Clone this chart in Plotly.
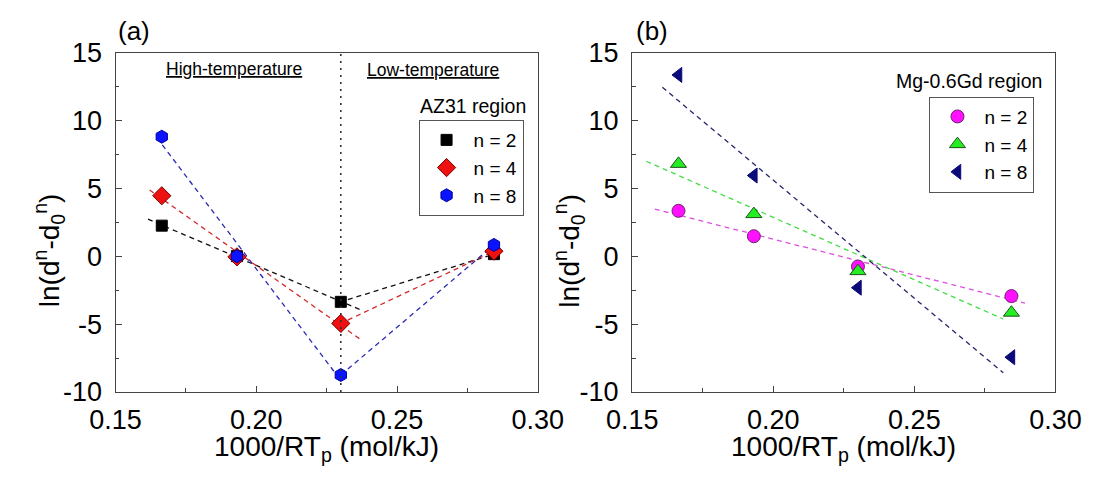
import numpy as np
import plotly.graph_objects as go

# 1000/RT_p (mol/kJ) for the four peak temperatures
inv_rt = [0.1664, 0.1931, 0.2300, 0.2844]

# ln(d^n - d0^n), AZ31 region
az31_n2 = [2.25, 0.0, -3.36, 0.15]
az31_n4 = [4.45, -0.05, -4.95, 0.37]
az31_n8 = [8.8, 0.0, -8.75, 0.83]

# ln(d^n - d0^n), Mg-0.6Gd region
gd_n2 = [3.34, 1.47, -0.76, -2.94]
gd_n4 = [6.8, 3.1, -1.1, -4.16]
gd_n8 = [13.35, 5.94, -2.32, -7.44]

# x extent of each fitted line
az31_high_span = {"n2": [0.1615, 0.2368], "n4": [0.1621, 0.2370], "n8": [0.1666, 0.2294]}
az31_low_span = [0.2325, 0.2835]
gd_span = {"n2": [0.158, 0.2892], "n4": [0.155, 0.2814], "n8": [0.1607, 0.2815]}

# axis ticks
x_ticks = [0.15, 0.20, 0.25, 0.30]
x_ticktext = ["0.15", "0.20", "0.25", "0.30"]
y_ticks = [-10, -5, 0, 5, 10, 15]
y_ticktext = ["-10", "-5", "0", "5", "10", "15"]

FONT = "Arial, Liberation Sans, sans-serif"
TICK_FONT = dict(family=FONT, size=27, color="black")


def fit_line(xs, ys, span):
    k, b = np.polyfit(xs, ys, 1)
    xx = np.array(span)
    return xx, k * xx + b


fig = go.Figure()

DASH = "5px,4px"

# panel (a): AZ31
az31 = [
    ("n2", az31_n2, "n = 2", dict(symbol="square", size=11, color="black",
                                   line=dict(color="black", width=1)), "#111111"),
    ("n4", az31_n4, "n = 4", dict(symbol="diamond", size=14, color="#ee1111",
                                   line=dict(color="#7a0000", width=1)), "#d42a2a"),
    ("n8", az31_n8, "n = 8", dict(symbol="hexagon", size=13, color="#0a14ff",
                                   line=dict(color="#0000a0", width=1)), "#2a2ab8"),
]
for key, ys, name, mk, lc in az31:
    hx, hy = fit_line(inv_rt[:3], ys[:3], az31_high_span[key])
    fig.add_trace(go.Scatter(x=hx, y=hy, mode="lines", showlegend=False,
                             line=dict(color=lc, width=1.3, dash=DASH),
                             xaxis="x", yaxis="y", hoverinfo="skip"))
    lx, ly = fit_line(inv_rt[2:], ys[2:], az31_low_span)
    fig.add_trace(go.Scatter(x=lx, y=ly, mode="lines", showlegend=False,
                             line=dict(color=lc, width=1.3, dash=DASH),
                             xaxis="x", yaxis="y", hoverinfo="skip"))
for key, ys, name, mk, lc in az31:
    fig.add_trace(go.Scatter(x=inv_rt, y=ys, mode="markers", name=name, marker=mk,
                             xaxis="x", yaxis="y", legend="legend"))

# boundary between the high- and low-temperature regimes
fig.add_trace(go.Scatter(x=[inv_rt[2], inv_rt[2]], y=[-10, 15], mode="lines",
                         showlegend=False, hoverinfo="skip",
                         line=dict(color="#333333", width=1.6, dash="2px,5px"),
                         xaxis="x", yaxis="y"))

# panel (b): Mg-0.6Gd
gd = [
    ("n2", gd_n2, "n = 2", dict(symbol="circle", size=13, color="#ff10ff",
                                 line=dict(color="#702070", width=1)), "#e050e0"),
    ("n4", gd_n4, "n = 4", dict(symbol="triangle-up", size=14, color="#22ee22",
                                 line=dict(color="#205020", width=1)), "#44dd44"),
    ("n8", gd_n8, "n = 8", dict(symbol="triangle-left", size=13, color="#0a0a78",
                                 line=dict(color="#0a0a78", width=1)), "#25256a"),
]
for key, ys, name, mk, lc in gd:
    fx, fy = fit_line(inv_rt, ys, gd_span[key])
    fig.add_trace(go.Scatter(x=fx, y=fy, mode="lines", showlegend=False,
                             line=dict(color=lc, width=1.3, dash=DASH),
                             xaxis="x2", yaxis="y2", hoverinfo="skip"))
for key, ys, name, mk, lc in gd:
    fig.add_trace(go.Scatter(x=inv_rt, y=ys, mode="markers", name=name, marker=mk,
                             xaxis="x2", yaxis="y2", legend="legend2"))

xa = dict(range=[0.15, 0.30], tickvals=x_ticks, ticktext=x_ticktext,
          ticks="inside", ticklen=6, tickwidth=1.2, tickcolor="#444",
          minor=dict(ticks="inside", ticklen=3.5, dtick=0.025, tickcolor="#444"),
          showline=True, linecolor="#444", linewidth=1.4, mirror=True,
          showgrid=False, zeroline=False, tickfont=TICK_FONT, ticklabelstandoff=3)
ya = dict(range=[-10, 15], tickvals=y_ticks, ticktext=y_ticktext,
          ticks="inside", ticklen=6, tickwidth=1.2, tickcolor="#444",
          minor=dict(ticks="inside", ticklen=3.5, dtick=2.5, tickcolor="#444"),
          showline=True, linecolor="#444", linewidth=1.4, mirror=True,
          showgrid=False, zeroline=False, tickfont=TICK_FONT, ticklabelstandoff=7)

W, H = 1111, 482
ydom = [1 - 402 / H, 1 - 40 / H]

legend_common = dict(bgcolor="white", bordercolor="#555", borderwidth=1,
                     font=dict(family=FONT, size=19, color="black"),
                     xanchor="right", yanchor="top", itemwidth=44, tracegroupgap=0)

fig.update_layout(
    width=W, height=H, margin=dict(l=0, r=0, t=0, b=0),
    paper_bgcolor="white", plot_bgcolor="white",
    xaxis=dict(xa, domain=[94 / W, 537 / W], anchor="y"),
    yaxis=dict(ya, domain=ydom, anchor="x"),
    xaxis2=dict(xa, domain=[636 / W, 1080 / W], anchor="y2"),
    yaxis2=dict(ya, domain=ydom, anchor="x2"),
    legend=dict(legend_common, x=522 / W, y=1 - 112 / H),
    legend2=dict(legend_common, x=1058 / W, y=1 - 87 / H),
    showlegend=True,
)

ann = []


def text(x, y, s, size, xanchor="center", yanchor="middle", angle=0):
    ann.append(dict(x=x / W, y=1 - y / H, xref="paper", yref="paper", text=s,
                    showarrow=False, xanchor=xanchor, yanchor=yanchor,
                    textangle=angle, font=dict(family=FONT, size=size, color="black")))


text(94, 17, "(a)", 26, xanchor="left")
text(638, 17, "(b)", 26, xanchor="left")
text(218, 58, "<u>High-temperature</u>", 17.5)
text(427, 59, "<u>Low-temperature</u>", 17.5)
text(527, 97, "AZ31 region", 19.5, xanchor="right")
text(1068, 70, "Mg-0.6Gd region", 19.5, xanchor="right")
xtitle = "1000/RT<sub>p</sub> (mol/kJ)"
text(315, 441, xtitle, 28, yanchor="top")
text(858, 441, xtitle, 28, yanchor="top")
ytitle = "ln(d<sup>n</sup>-d<sub>0</sub><sup>n</sup>)"
text(25, 251, ytitle, 28, angle=-90)
text(570, 251, ytitle, 28, angle=-90)
fig.update_layout(annotations=ann)

fig.write_html("out.html")
